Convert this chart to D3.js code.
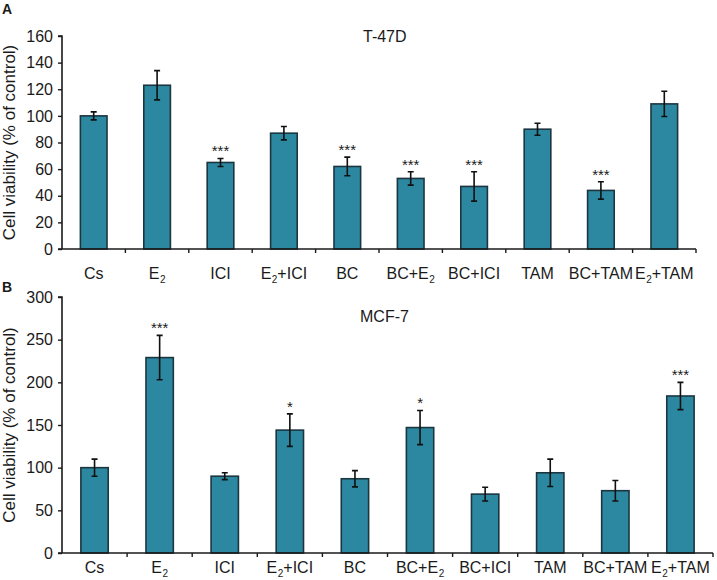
<!DOCTYPE html>
<html>
<head>
<meta charset="utf-8">
<script src="https://cdn.jsdelivr.net/npm/d3@7/dist/d3.min.js"></script>
<style>
  body { margin: 0; background: #fff; }
  text { font-family: "Liberation Sans", Arial, sans-serif; fill: #1a1a1a; }
</style>
</head>
<body>
<svg id="chart" width="717" height="580"></svg>
<script>
// ---- data ----
const categories = ["Cs", "E2", "ICI", "E2+ICI", "BC", "BC+E2", "BC+ICI", "TAM", "BC+TAM", "E2+TAM"];

const t47dValues = [100, 123, 65, 87, 62, 53, 47, 90, 44, 109];
const t47dErrors = [3, 11, 3, 5, 7, 5, 11, 4.5, 6.5, 9.5];
const t47dStars  = ["", "", "***", "", "***", "***", "***", "", "***", ""];
const t47dTicks  = [0, 20, 40, 60, 80, 100, 120, 140, 160];

const mcf7Values = [100, 229, 90, 144, 87, 147, 69, 94, 73, 184];
const mcf7Errors = [10, 26, 4, 19, 9.5, 20, 8, 16, 12, 16];
const mcf7Stars  = ["", "***", "", "*", "", "*", "", "", "", "***"];
const mcf7Ticks  = [0, 50, 100, 150, 200, 250, 300];

const yLabel = "Cell viability (% of control)";

// ---- drawing ----
const svg = d3.select("#chart");
const barFill = "#2c88a0";
const barStroke = "#1c3640";

function addLabel(sel, label) {
  // render "E2" with subscript 2
  const parts = label.split(/(E2)/).filter(s => s.length);
  let shift = 0;
  parts.forEach(p => {
    if (p === "E2") {
      const e = sel.append("tspan").text("E");
      if (shift) e.attr("dy", shift);
      sel.append("tspan").attr("font-size", "10px").attr("dy", 4).attr("dx", 0.5).text("2");
      shift = -4;
    } else {
      const t = sel.append("tspan").text(p);
      if (shift) t.attr("dy", shift);
      shift = 0;
    }
  });
}

function panel(opts) {
  const g = svg.append("g");
  const x = d3.scaleBand().domain(categories).range([opts.x0, opts.x1]).paddingInner(0.58).paddingOuter(0.29);
  const y = d3.scaleLinear().domain([0, opts.max]).range([opts.y0, opts.y1]);

  // y axis
  const yAxis = d3.axisLeft(y).tickValues(opts.ticks).tickSize(4).tickPadding(5).tickFormat(d3.format("d"));
  const ya = g.append("g").attr("transform", `translate(${opts.x0},0)`).call(yAxis);
  ya.select(".domain").attr("stroke", "#1a1a1a").attr("stroke-width", 1.6).attr("d", `M-4,${opts.y1}H0V${opts.y0}`);
  ya.selectAll(".tick line").attr("stroke", "#1a1a1a").attr("stroke-width", 1.4);
  ya.selectAll(".tick text").attr("font-size", "16px").attr("fill", "#1a1a1a")
    .attr("font-family", '"Liberation Sans", Arial, sans-serif');

  // bars
  g.selectAll("rect.bar").data(opts.values).join("rect")
    .attr("class", "bar")
    .attr("x", (d, i) => x(categories[i]))
    .attr("width", x.bandwidth())
    .attr("y", d => y(d))
    .attr("height", d => y(0) - y(d))
    .attr("fill", barFill)
    .attr("stroke", barStroke)
    .attr("stroke-width", 1.6);

  // error bars
  const cap = 3;
  opts.values.forEach((v, i) => {
    const cx = x(categories[i]) + x.bandwidth() / 2;
    const e = opts.errors[i];
    const path = `M${cx},${y(v + e)}V${y(v - e)}M${cx - cap},${y(v + e)}H${cx + cap}M${cx - cap},${y(v - e)}H${cx + cap}`;
    g.append("path").attr("d", path).attr("stroke", "#111").attr("stroke-width", 1.6).attr("fill", "none");
    if (opts.stars[i]) {
      g.append("text").attr("x", cx).attr("y", y(v + e) - 2)
        .attr("text-anchor", "middle").attr("font-size", "15px").text(opts.stars[i]);
    }
  });

  // x axis
  const xa = g.append("g");
  xa.append("path").attr("d", `M${opts.x0 - 4},${opts.y0}H${opts.x1}`).attr("stroke", "#1a1a1a").attr("stroke-width", 1.6);
  categories.forEach((c, i) => {
    const bx = opts.x0 + (i + 1) * (opts.x1 - opts.x0) / categories.length;
    xa.append("line").attr("x1", bx).attr("x2", bx).attr("y1", opts.y0).attr("y2", opts.y0 + 4)
      .attr("stroke", "#1a1a1a").attr("stroke-width", 1.4);
    const t = xa.append("text").attr("x", x(c) + x.bandwidth() / 2).attr("y", opts.y0 + opts.labelGap)
      .attr("text-anchor", "middle").attr("font-size", "16px");
    addLabel(t, c);
  });

  // title
  g.append("text").attr("x", opts.titleX).attr("y", opts.titleY).attr("font-size", "16px").text(opts.title);
  // panel letter
  g.append("text").attr("x", 2).attr("y", opts.letterY).attr("font-size", "14px").attr("font-weight", "bold").text(opts.letter);
  // y label
  g.append("text").attr("transform", `translate(15,${(opts.y0 + opts.y1) / 2}) rotate(-90)`)
    .attr("text-anchor", "middle").attr("font-size", "17px").text(yLabel);
}

panel({ x0: 62, x1: 696, y0: 249, y1: 36, max: 160, ticks: t47dTicks, values: t47dValues, errors: t47dErrors,
        stars: t47dStars, labelGap: 30, title: "T-47D", titleX: 363, titleY: 42, letter: "A", letterY: 14 });
panel({ x0: 62, x1: 713, y0: 553, y1: 297, max: 300, ticks: mcf7Ticks, values: mcf7Values, errors: mcf7Errors,
        stars: mcf7Stars, labelGap: 20, title: "MCF-7", titleX: 360, titleY: 322, letter: "B", letterY: 292 });
</script>
</body>
</html>
